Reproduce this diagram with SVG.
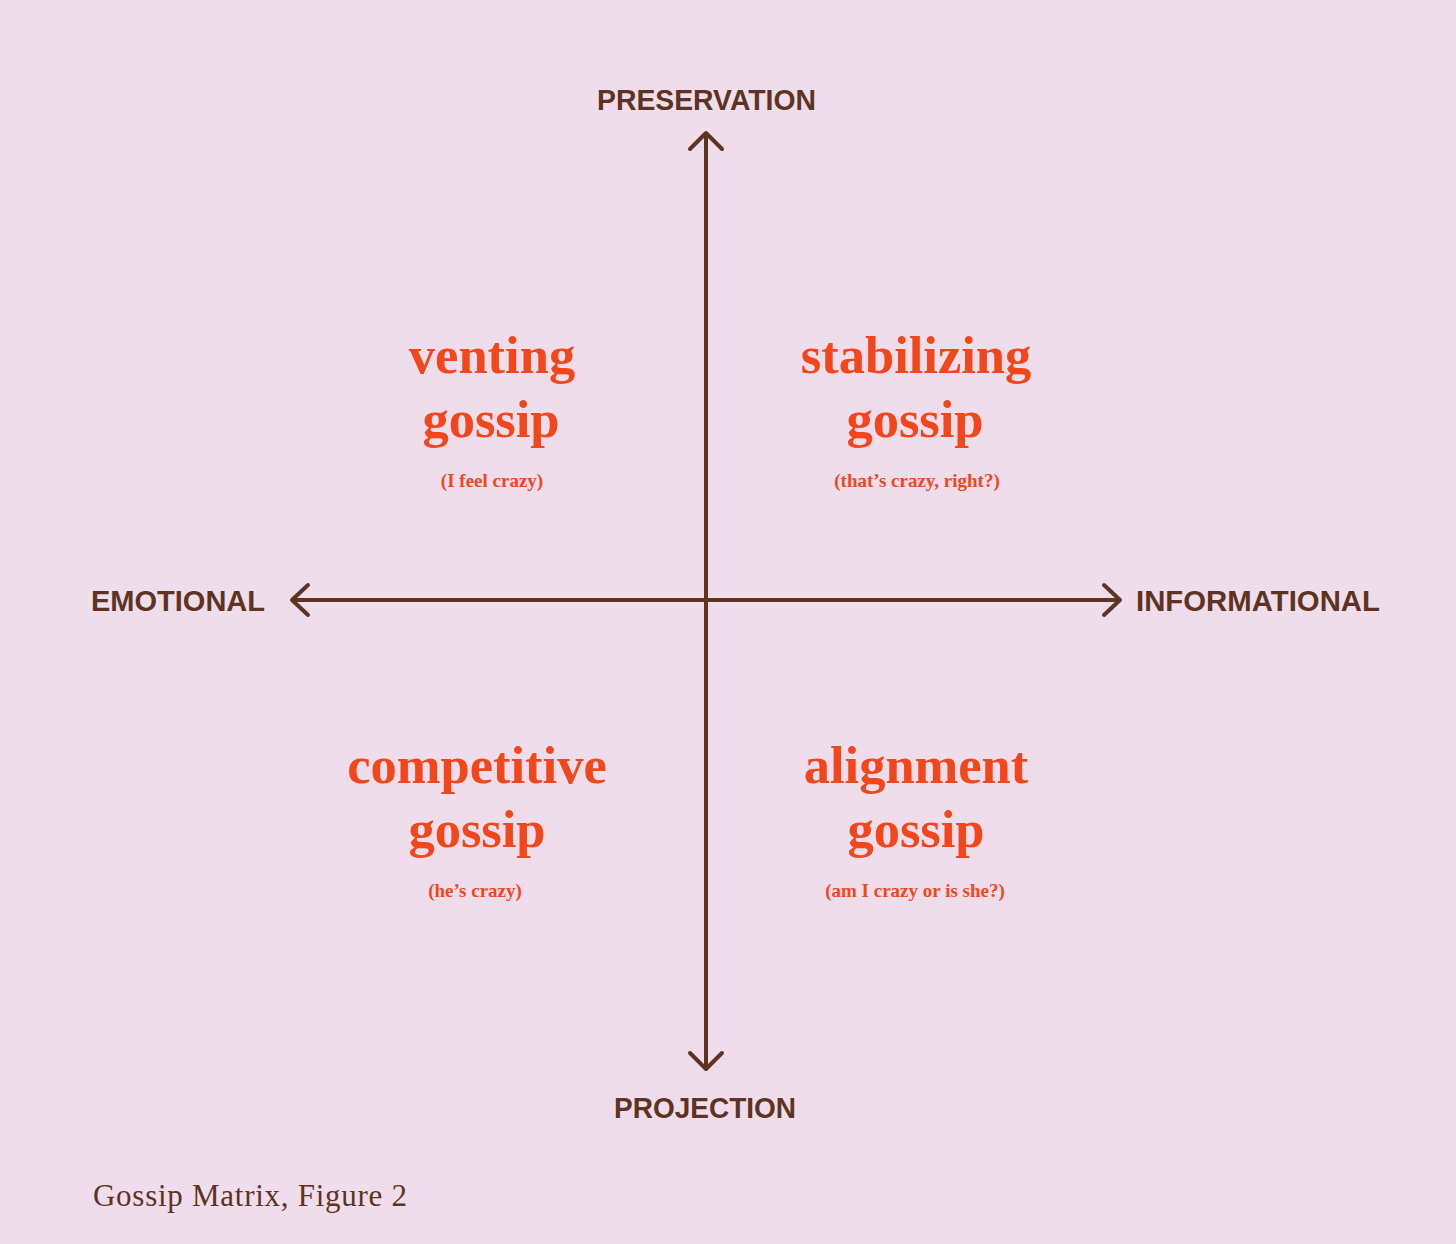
<svg xmlns="http://www.w3.org/2000/svg" width="1456" height="1244" viewBox="0 0 1456 1244">
<defs>
<style>
.axis{stroke:#5E3321;stroke-width:4;fill:none;stroke-linecap:round;stroke-linejoin:round}
.lbl{font-family:"Liberation Sans",Arial,sans-serif;font-weight:bold;font-size:29px;fill:#5E3321}
.ttl{font-family:"Liberation Serif","Times New Roman",serif;font-weight:bold;font-size:52.5px;fill:#F4461B;text-anchor:middle}
.sub{font-family:"Liberation Serif","Times New Roman",serif;font-weight:bold;font-size:19px;fill:#F4461B;text-anchor:middle}
.cap{font-family:"Liberation Serif","Times New Roman",serif;font-size:31px;fill:#5E3321}
</style>
</defs>
<rect width="1456" height="1244" fill="#EFDDEC"/>
<g id="connectors">
<path class="axis" d="M706 134 V1068"/>
<path class="axis" d="M690 149 L706 133 L722 149"/>
<path class="axis" d="M690 1053 L706 1069 L722 1053"/>
<path class="axis" d="M293 600 H1119"/>
<path class="axis" d="M308 585 L292 600 L308 615"/>
<path class="axis" d="M1104 585 L1120 600 L1104 615"/>
</g>
<g id="preservation"><text class="lbl" x="597" y="110" textLength="219" lengthAdjust="spacingAndGlyphs">PRESERVATION</text></g>
<g id="projection"><text class="lbl" x="614" y="1118" textLength="182" lengthAdjust="spacingAndGlyphs">PROJECTION</text></g>
<g id="emotional"><text class="lbl" x="91" y="611" textLength="174" lengthAdjust="spacingAndGlyphs">EMOTIONAL</text></g>
<g id="informational"><text class="lbl" x="1136" y="611" textLength="244" lengthAdjust="spacingAndGlyphs">INFORMATIONAL</text></g>
<g id="venting">
<text class="ttl" x="492" y="373">venting</text>
<text class="ttl" x="491" y="437">gossip</text>
<text class="sub" x="492" y="487">(I feel crazy)</text>
</g>
<g id="stabilizing">
<text class="ttl" x="916" y="373">stabilizing</text>
<text class="ttl" x="915" y="437">gossip</text>
<text class="sub" x="917" y="487">(that’s crazy, right?)</text>
</g>
<g id="competitive">
<text class="ttl" x="477" y="783">competitive</text>
<text class="ttl" x="477" y="847">gossip</text>
<text class="sub" x="475" y="897">(he’s crazy)</text>
</g>
<g id="alignment">
<text class="ttl" x="916" y="783">alignment</text>
<text class="ttl" x="916" y="847">gossip</text>
<text class="sub" x="915" y="897">(am I crazy or is she?)</text>
</g>
<g id="caption"><text class="cap" x="93" y="1206" textLength="314" lengthAdjust="spacing">Gossip Matrix, Figure 2</text></g>
</svg>
